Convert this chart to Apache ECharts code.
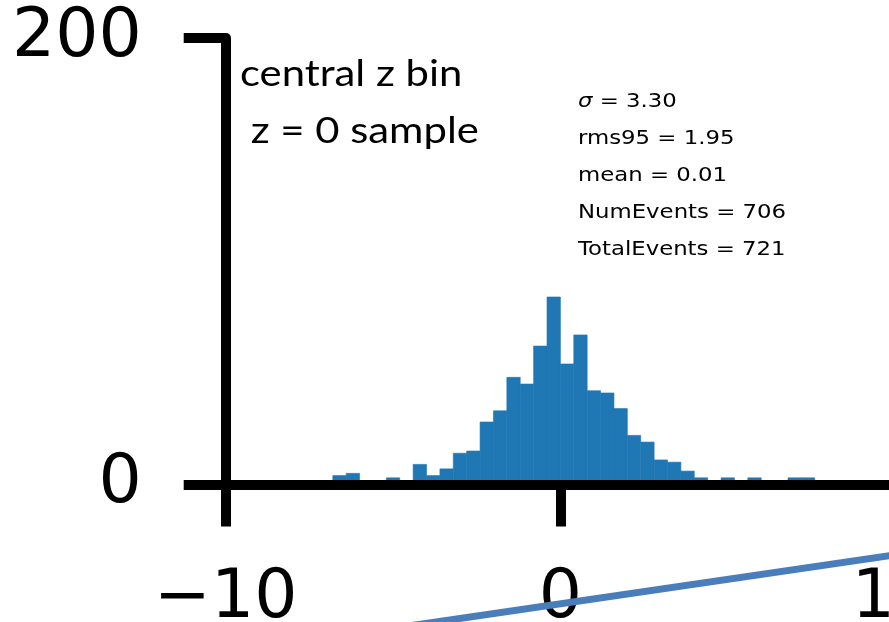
<!DOCTYPE html>
<html><head><meta charset="utf-8">
<script src="https://cdn.jsdelivr.net/npm/echarts@6/dist/echarts.min.js"></script>
<style>html,body{margin:0;padding:0;background:#fff;overflow:hidden}#c{width:889px;height:622px}</style>
</head><body><div id="c"></div>
<script>
// ---- data ----
const binWidth = 0.4;
const binLeft = [-6.8,-6.4,-5.2,-4.4,-4.0,-3.6,-3.2,-2.8,-2.4,-2.0,-1.6,-1.2,-0.8,-0.4,0.0,0.4,0.8,1.2,1.6,2.0,2.4,2.8,3.2,3.6,4.0,4.8,5.6,6.8,7.2];
const counts  = [4,5,3,9,4,7,14,15,28,33,48,45,62,84,54,67,42,41,34,22,19,11,10,6,3,3,3,3,3];
const xTicks = [-10, 0, 10];
const yTicks = [0, 200];
const titleLines = ['central z bin', ' z = 0 sample'];
const statLabels = ['σ', 'rms95', 'mean', 'NumEvents', 'TotalEvents'];
const statValues = ['3.30', '1.95', '0.01', '706', '721'];
const overlayX = [-4.5, 10.5];
const overlayY = [-63.3, -30.4];

// ---- chart ----
const chart = echarts.init(document.getElementById('c'), null, {renderer: 'canvas'});
const fmt = v => v < 0 ? '\u2212' + Math.abs(v) : String(v);

const histData = binLeft.map((l, i) => [l, l + binWidth, counts[i]]);
const overlayData = overlayX.map((x, i) => [x, overlayY[i]]);

const statGraphics = statLabels.map((lab, i) => ({
  type: 'text', x: 578, y: 93 + i * 36.9, scaleX: 1.2, scaleY: 1,
  style: {
    text: (i === 0 ? '{it|σ}' : lab) + ' = ' + statValues[i],
    font: '19px "DejaVu Sans"', fill: '#000',
    rich: { it: { fontStyle: 'italic', fontFamily: 'DejaVu Sans', fontSize: 19 } }
  }, z: 30
}));

const titleGraphics = titleLines.map((t, i) => ({
  type: 'text', x: 240, y: 56 + i * 57, scaleX: 1.13, scaleY: 1,
  style: { text: t, font: '37px Lato', fill: '#000' }, z: 30
}));

chart.setOption({
  animation: false,
  backgroundColor: '#fff',
  grid: { left: 225.7, right: -6.1, top: 38, bottom: 137.5, containLabel: false, outerBoundsMode: 'none' },
  xAxis: [{
    type: 'value', min: xTicks[0], max: xTicks[xTicks.length - 1], interval: 10,
    z: 10,
    axisLine: { show: true, onZero: false, lineStyle: { color: '#000', width: 10 } },
    axisTick: { show: true, length: 42, lineStyle: { color: '#000', width: 10 } },
    axisLabel: { show: true, margin: 81, fontSize: 68, fontFamily: 'DejaVu Sans', color: '#000', formatter: fmt, showMaxLabel: true, showMinLabel: true },
    splitLine: { show: false }
  }, {
    type: 'value', position: 'top', min: xTicks[0], max: xTicks[xTicks.length - 1], z: 10,
    axisLine: { show: true, lineStyle: { color: '#000', width: 10 } },
    axisTick: { show: false }, axisLabel: { show: false }, splitLine: { show: false }
  }],
  yAxis: [{
    type: 'value', min: yTicks[0], max: yTicks[yTicks.length - 1], interval: 200,
    z: 10,
    axisLine: { show: true, onZero: false, lineStyle: { color: '#000', width: 10 } },
    axisTick: { show: true, length: 42, lineStyle: { color: '#000', width: 10 } },
    axisLabel: { show: true, margin: 84, fontSize: 68, fontFamily: 'DejaVu Sans', color: '#000', formatter: fmt },
    splitLine: { show: false }
  }],
  series: [{
    type: 'custom', z: 2,
    xAxisIndex: 0, yAxisIndex: 0,
    encode: { x: [0, 1], y: 2 },
    data: histData,
    renderItem: (params, api) => {
      const p0 = api.coord([api.value(0), api.value(2)]);
      const p1 = api.coord([api.value(1), 0]);
      return { type: 'rect', shape: { x: p0[0], y: p0[1], width: p1[0] - p0[0], height: p1[1] - p0[1] },
               style: { fill: '#1f77b4', stroke: '#1f77b4', lineWidth: 0.6 } };
    }
  }, {
    type: 'line', xAxisIndex: 0, yAxisIndex: 0, data: overlayData, clip: false,
    symbol: 'none', z: 20, lineStyle: { color: '#4a7ebb', width: 7 }
  }],
  graphic: titleGraphics.concat(statGraphics)
});
</script></body></html>
